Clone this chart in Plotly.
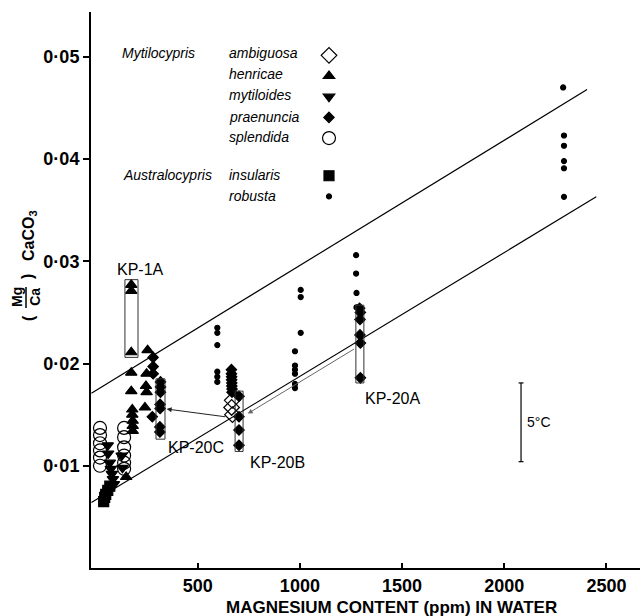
import plotly.graph_objects as go

# ---------------- data ----------------
ambiguosa_x = [669, 666, 670]
ambiguosa_y = [0.0164, 0.0157, 0.0150]

henricae_x = [175, 175, 175, 255, 175, 250, 175, 247, 250, 242, 180, 180, 182, 182, 182, 150]
henricae_y = [0.0277, 0.0271, 0.0211, 0.0213, 0.0191, 0.0190, 0.0173, 0.0178, 0.0172,
              0.0157, 0.0155, 0.0150, 0.0144, 0.0139, 0.0134, 0.0089]

mytiloides_x = [60, 62, 70, 75, 80, 85, 90, 128, 132]
mytiloides_y = [0.0120, 0.0112, 0.0103, 0.0097, 0.0092, 0.0087, 0.0082, 0.0110, 0.0098]

praenuncia_x = [282, 282, 282, 278,
                318, 318, 318, 316, 316, 315, 315,
                665, 665, 666, 666, 667, 667, 668, 668,
                702, 702, 702, 702,
                1292, 1296, 1294, 1294, 1296, 1296]
praenuncia_y = [0.0206, 0.0197, 0.0190, 0.0148,
                0.0182, 0.0177, 0.0172, 0.0160, 0.0156, 0.0138, 0.0133,
                0.0194, 0.0190, 0.0187, 0.0184, 0.0181, 0.0178, 0.0175, 0.0172,
                0.0168, 0.0148, 0.0135, 0.0120,
                0.0254, 0.0250, 0.0243, 0.0228, 0.0220, 0.0186]

splendida_x = [22, 22, 22, 22, 22, 22, 140, 140, 140, 140, 140, 140]
splendida_y = [0.0137, 0.0130, 0.0122, 0.0115, 0.0108, 0.0100,
               0.0137, 0.0128, 0.0118, 0.0110, 0.0103, 0.0097]

insularis_x = [40, 45, 50, 60, 70]
insularis_y = [0.0065, 0.0069, 0.0072, 0.0076, 0.0080]

robusta_x = [596, 596, 596, 596, 596, 596,
             1004, 1004, 1004, 976, 976, 976, 976, 976, 976,
             1275, 1275, 1277, 1277,
             2288, 2292, 2292, 2292, 2292, 2292]
robusta_y = [0.0235, 0.0230, 0.0218, 0.0192, 0.0187, 0.0182,
             0.0272, 0.0265, 0.0230, 0.0212, 0.0198, 0.0194, 0.0190, 0.0180, 0.0176,
             0.0306, 0.0288, 0.0269, 0.0255,
             0.0470, 0.0423, 0.0413, 0.0398, 0.0391, 0.0363]

# temperature envelope lines (end points)
upper_x = [-20, 2405]
upper_y = [0.0171, 0.0468]
lower_x = [-20, 2450]
lower_y = [0.0064, 0.0363]

# sample boxes: name, x0, x1, y0, y1
boxes = [("KP-1A", 144, 208, 0.0206, 0.0282),
         ("KP-20C", 296, 340, 0.0126, 0.0185),
         ("KP-20B", 683, 722, 0.0114, 0.0173),
         ("KP-20A", 1274, 1313, 0.0181, 0.0257)]

x_ticks = [500, 1000, 1500, 2000, 2500]
x_ticktext = ["500", "1000", "1500", "2000", "2500"]
y_ticks = [0.01, 0.02, 0.03, 0.04, 0.05]
y_ticktext = ["0·01", "0·02", "0·03", "0·04", "0·05"]

# ---------------- layout geometry ----------------
W, H = 640, 616
L, T, R, B = 91, 12, 0, 48
PW, PH = W - L - R, H - T - B


def P(px, py):
    return (px - L) / PW, 1 - (py - T) / PH


FONT = "Liberation Sans"
fig = go.Figure()

# lines
fig.add_trace(go.Scatter(x=upper_x, y=upper_y, mode="lines", line=dict(color="black", width=1.2),
                         showlegend=False, hoverinfo="skip"))
fig.add_trace(go.Scatter(x=lower_x, y=lower_y, mode="lines", line=dict(color="black", width=1.2),
                         showlegend=False, hoverinfo="skip"))

series = [
    ("ambiguosa", ambiguosa_x, ambiguosa_y, "diamond-open", 12, "M"),
    ("henricae", henricae_x, henricae_y, "triangle-up", 10, "M"),
    ("mytiloides", mytiloides_x, mytiloides_y, "triangle-down", 10, "M"),
    ("praenuncia", praenuncia_x, praenuncia_y, "diamond", 8, "M"),
    ("splendida", splendida_x, splendida_y, "circle-open", 13, "M"),
    ("insularis", insularis_x, insularis_y, "square", 10, "A"),
    ("robusta", robusta_x, robusta_y, "circle", 5, "A"),
]
for name, xs, ys, sym, sz, grp in series:
    fig.add_trace(go.Scatter(
        x=xs, y=ys, mode="markers", name=" ", legendgroup=grp,
        marker=dict(symbol=sym, size=sz, color="black",
                    line=dict(color="black", width=1.2)),
        hovertemplate=name + ": %{x} ppm, %{y}<extra></extra>"))

shapes = []
annotations = []


def note(px, py, text, size=14, xanchor="center", angle=0, color="black"):
    ax_, ay_ = P(px, py)
    annotations.append(dict(xref="paper", yref="paper", x=ax_, y=ay_, xanchor=xanchor, yanchor="middle",
                            text=text, showarrow=False, textangle=angle,
                            font=dict(family=FONT, size=size, color=color)))


label_pos = {"KP-1A": (140, 269), "KP-20C": (196, 447), "KP-20B": (277, 462), "KP-20A": (392, 398)}
for name, x0, x1, y0, y1 in boxes:
    shapes.append(dict(type="rect", xref="x", yref="y", x0=x0, x1=x1, y0=y0, y1=y1,
                       line=dict(color="#333", width=1)))
    px, py = label_pos[name]
    note(px, py, name, size=16)

# arrows
annotations.append(dict(xref="x", yref="y", axref="x", ayref="y", x=348, y=0.01555, ax=643, ay=0.01477,
                        text="", showarrow=True, arrowhead=2, arrowsize=1, arrowwidth=1, arrowcolor="#222"))
annotations.append(dict(xref="x", yref="y", axref="x", ayref="y", x=745, y=0.0151, ax=1272, ay=0.0215,
                        text="", showarrow=True, arrowhead=2, arrowsize=1, arrowwidth=1, arrowcolor="#666"))

# 5 degC scale bar
bar_x = 2082
shapes.append(dict(type="line", xref="x", yref="y", x0=bar_x, x1=bar_x, y0=0.0104, y1=0.0181,
                   line=dict(color="black", width=1.2)))
for yy in (0.0104, 0.0181):
    shapes.append(dict(type="line", xref="x", yref="y", x0=bar_x - 12, x1=bar_x + 12, y0=yy, y1=yy,
                       line=dict(color="black", width=1.2)))
note(525, 422, "5°C", size=14, xanchor="left")

# legend labels
leg_rows = [("ambiguosa", 53), ("henricae", 74), ("mytiloides", 95), ("praenuncia", 117),
            ("splendida", 137), ("insularis", 175), ("robusta", 196)]
for txt, py in leg_rows:
    note(227, py, f"<i>{txt}</i>", size=14, xanchor="left")
note(120, 53, "<i>Mytilocypris</i>", size=14, xanchor="left")
note(121, 175, "<i>Australocypris</i>", size=14, xanchor="left")

# x-axis title
note(391, 607, "<b>MAGNESIUM CONTENT (ppm) IN WATER</b>", size=17)

# y-axis title: (Mg/Ca) CaCO3 written as a fraction
note(30, 236, "<b>CaCO<sub>3</sub></b>", size=16, angle=-90)
note(28, 277, "<b>)</b>", size=16, angle=-90)
note(26, 297, "<b>Mg<br>Ca</b>", size=14, angle=-90)
note(28, 318, "<b>(</b>", size=16, angle=-90)
x0p, y0p = P(26, 287)
x1p, y1p = P(26, 308)
shapes.append(dict(type="line", xref="paper", yref="paper", x0=x0p, x1=x1p, y0=y0p, y1=y1p,
                   line=dict(color="black", width=1.5)))

lx, ly = P(309, 40)
fig.update_layout(
    width=W, height=H, margin=dict(l=L, r=R, t=T, b=B, autoexpand=False),
    plot_bgcolor="white", paper_bgcolor="white",
    showlegend=True,
    legend=dict(x=lx, y=ly, xanchor="left", yanchor="top", bgcolor="rgba(0,0,0,0)",
                font=dict(family=FONT, size=13.6), tracegroupgap=17, traceorder="grouped",
                itemwidth=30),
    xaxis=dict(range=[-22, 2664], showline=True, linecolor="black", linewidth=2,
               ticks="inside", ticklen=5, tickwidth=1.5, tickcolor="black",
               tickvals=x_ticks, ticktext=x_ticktext, showgrid=False, zeroline=False,
               ticklabelstandoff=0,
               tickfont=dict(family=FONT, size=18, color="black", weight="bold")),
    yaxis=dict(range=[0, 0.05438], showline=True, linecolor="black", linewidth=2,
               ticks="outside", ticklen=6, tickwidth=1.5, tickcolor="black",
               tickvals=y_ticks, ticktext=y_ticktext, showgrid=False, zeroline=False,
               tickfont=dict(family=FONT, size=18, color="black", weight="bold")),
    shapes=shapes, annotations=annotations,
)
fig.write_html("out.html")
